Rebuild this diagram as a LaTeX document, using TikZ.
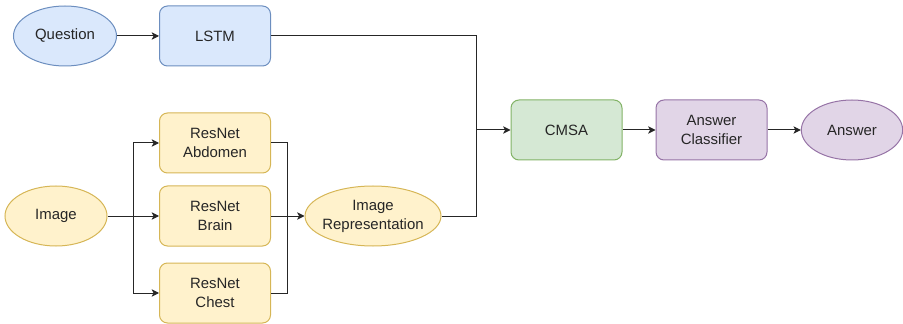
\documentclass[tikz,border=0pt]{standalone}
\usepackage{fontspec}
\setmainfont{Liberation Sans}
\usetikzlibrary{shapes.geometric,arrows.meta}
\definecolor{bfill}{HTML}{DAE8FC}\definecolor{bdraw}{HTML}{6C8EBF}
\definecolor{yfill}{HTML}{FFF2CC}\definecolor{ydraw}{HTML}{D6B656}
\definecolor{gfill}{HTML}{D5E8D4}\definecolor{gdraw}{HTML}{82B366}
\definecolor{pfill}{HTML}{E1D5E7}\definecolor{pdraw}{HTML}{9673A6}
\begin{document}
\begin{tikzpicture}[x=0.75pt,y=-0.75pt,
  every node/.style={font=\fontsize{11.2}{14.2}\selectfont, text=black!85, align=center, line width=0.75pt},
  rbox/.style={rectangle, rounded corners=6pt, minimum width=83.25pt, minimum height=45pt, inner sep=1pt},
  ell/.style={ellipse, minimum height=45pt, inner sep=0pt},
  blue/.style={fill=bfill, draw=bdraw},
  yel/.style={fill=yfill, draw=ydraw},
  grn/.style={fill=gfill, draw=gdraw},
  pur/.style={fill=pfill, draw=pdraw},
  arr/.style={-{Stealth[length=5.5pt,width=5.5pt,inset=1.4pt]}, line width=0.75pt, black!85},
  ln/.style={line width=0.75pt, black!85}]
\useasboundingbox (0,0) rectangle (903,324);
\node[ell,blue,minimum width=77.25pt] (q) at (65,36) {Question};
\node[rbox,blue] (lstm) at (215,36) {LSTM};
\node[ell,yel,minimum width=76.5pt] (img) at (56,216) {Image};
\node[rbox,yel] (abd) at (215,143) {ResNet\\Abdomen};
\node[rbox,yel] (brain) at (215,216) {ResNet\\Brain};
\node[rbox,yel] (chest) at (215,293) {ResNet\\Chest};
\node[ell,yel,minimum width=102pt,inner xsep=-12pt,inner ysep=-4pt] (rep) at (373,216) {Image\\Representation};
\node[rbox,grn] (cmsa) at (566.5,130) {CMSA};
\node[rbox,pur] (cls) at (711.5,130) {Answer\\Classifier};
\node[ell,pur,minimum width=76pt] (ans) at (852,130) {Answer};
\coordinate (j1) at (133,216);
\coordinate (j2) at (287,216);
\coordinate (j3) at (476,130);
\draw[arr] (q) -- (lstm);
\draw[arr] (img.east) -- (brain.west);
\draw[arr] (j1) |- (abd.west);
\draw[arr] (j1) |- (chest.west);
\draw[ln] (abd.east) -| (j2);
\draw[ln] (chest.east) -| (j2);
\draw[arr] (brain.east) -- (rep.west);
\draw[ln] (lstm.east) -| (j3);
\draw[ln] (rep.east) -| (j3);
\draw[arr] (j3) -- (cmsa.west);
\draw[arr] (cmsa) -- (cls);
\draw[arr] (cls) -- (ans);
\end{tikzpicture}
\end{document}
